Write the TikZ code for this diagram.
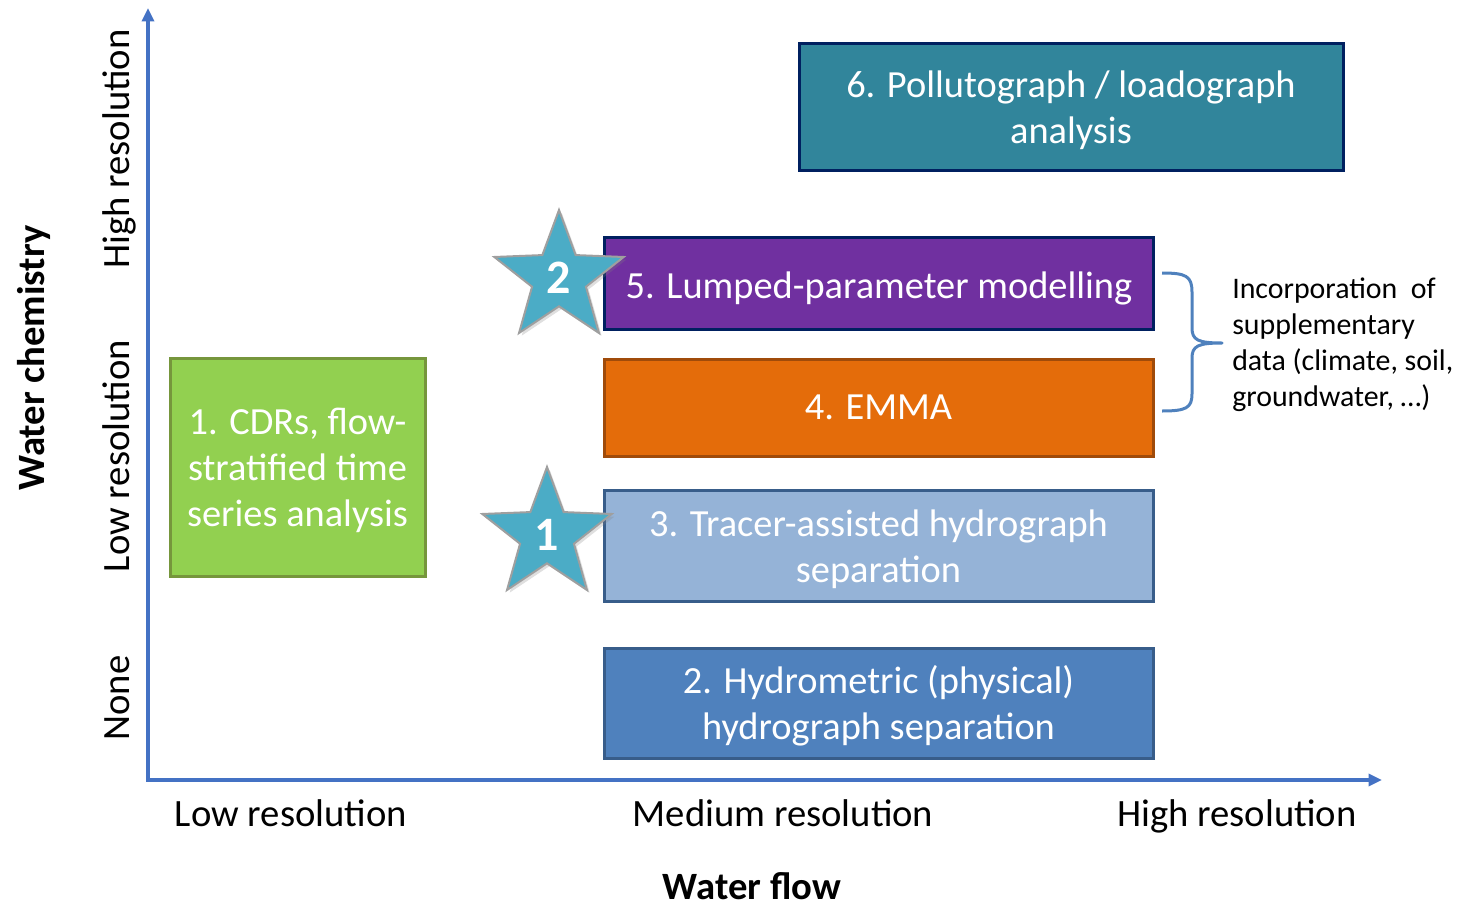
\documentclass[tikz,border=0pt]{standalone}
\usepackage{fontspec}
\setmainfont{Carlito}
\usepackage{tikz}
\usetikzlibrary{arrows.meta,shapes.geometric,shadows}
\definecolor{axisblue}{RGB}{68,114,196}
\definecolor{navyline}{RGB}{0,32,96}
\definecolor{cteal}{RGB}{49,133,155}
\definecolor{cpurple}{RGB}{112,48,160}
\definecolor{corange}{RGB}{228,108,10}
\definecolor{corangeline}{RGB}{160,75,10}
\definecolor{clight}{RGB}{149,179,215}
\definecolor{cmid}{RGB}{79,129,189}
\definecolor{cmidline}{RGB}{56,93,138}
\definecolor{cgreen}{RGB}{146,208,80}
\definecolor{cgreenline}{RGB}{118,150,60}
\definecolor{cstar}{RGB}{75,172,198}
% taller first line, pushes the box texts down a little
\newcommand{\topgap}[1][25pt]{\rule{0pt}{#1}}

\begin{document}
\begin{tikzpicture}[
  x=0.75pt,y=-0.75pt,
  method/.style={draw,line width=2.25pt,text=white,align=center,inner sep=0pt,
                 font=\fontsize{28.8}{34.5}\selectfont},
  midbox/.style={method,minimum width=411.75pt},
  axislabel/.style={anchor=base,inner sep=0pt,font=\fontsize{29}{34}\selectfont},
  axistitle/.style={anchor=base,inner sep=0pt,font=\fontsize{29}{34}\selectfont\bfseries},
  axisline/.style={draw=axisblue,line width=2.4pt,-{Triangle[length=10pt,width=9pt]}},
  rankstar/.style={star,star points=5,star point ratio=2.4,draw=gray!75,fill=cstar,
                   line width=1.5pt,minimum size=102pt,inner sep=0pt,text=white,
                   font=\fontsize{36}{36}\selectfont\bfseries,
                   drop shadow={shadow xshift=2pt,shadow yshift=-2pt,opacity=0.25}},
  bracetext/.style={align=left,anchor=north west,inner sep=0pt,
                    font=\fontsize{22.4}{27}\selectfont}
]
\useasboundingbox (0,0) rectangle (1461,907);

% axes
\coordinate (origin) at (148,780);
\coordinate (ytop) at (148,8);
\coordinate (xend) at (1382,780);
\draw[axisline] ([yshift=-1.2pt]origin) -- (ytop);
\draw[axisline] ([xshift=-1.2pt]origin) -- (xend);

% method boxes
\node[method,fill=cteal,draw=navyline,minimum width=408pt,minimum height=95.25pt]
  (pollut) at (1071,106.5) {\topgap6. Pollutograph / loadograph\\analysis};
\node[midbox,fill=cpurple,draw=navyline,minimum height=69pt]
  (lumped) at (879,283) {\topgap[28pt]5. Lumped-parameter modelling};
\node[midbox,fill=corange,draw=corangeline,minimum height=72.75pt]
  (emma) at (878.5,407.5) {4. EMMA};
\node[midbox,fill=clight,draw=cmidline,minimum height=83.25pt]
  (tracer) at (878.5,545.5) {\topgap3. Tracer-assisted hydrograph\\separation};
\node[midbox,fill=cmid,draw=cmidline,minimum height=82.5pt]
  (hydromet) at (878.5,703) {\topgap2. Hydrometric (physical)\\hydrograph separation};
\node[method,fill=cgreen,draw=cgreenline,minimum width=191.25pt,minimum height=163.5pt]
  (cdr) at (297.5,467) {\topgap1. CDRs, flow-\\stratified time\\series analysis};

% stars
\node[rankstar] (startwo) at (559,278) {2};
\node[rankstar] (starone) at (547,535) {1};

% brace
\draw[cmid,line width=2.25pt,line join=round]
  (1162,273) .. controls (1186,273) and (1192,276) .. (1192,292)
  -- (1192,328) .. controls (1192,340) and (1198,343) .. (1222,343)
  .. controls (1198,343) and (1192,346) .. (1192,358)
  -- (1192,394) .. controls (1192,408) and (1186,411) .. (1162,411);
\node[bracetext] (extra) at (1232,278)
  {Incorporation\ \ of\\supplementary\\data (climate, soil,\\groundwater, \dots)};

% axis labels
\node[axislabel] (flowlow) at (291,826) {Low resolution};
\node[axislabel] (flowmid) at (783,826) {Medium resolution};
\node[axislabel] (flowhigh) at (1237,826) {High resolution};
\node[axistitle] (flowtitle) at (752,899) {Water flow};

\node[axislabel,rotate=90] (chemhigh) at (129.5,149) {High resolution};
\node[axislabel,rotate=90] (chemlow) at (129.5,456) {Low resolution};
\node[axislabel,rotate=90] (chemnone) at (129.5,698) {None};
\node[axistitle,rotate=90] (chemtitle) at (44,358) {Water chemistry};
\end{tikzpicture}
\end{document}
